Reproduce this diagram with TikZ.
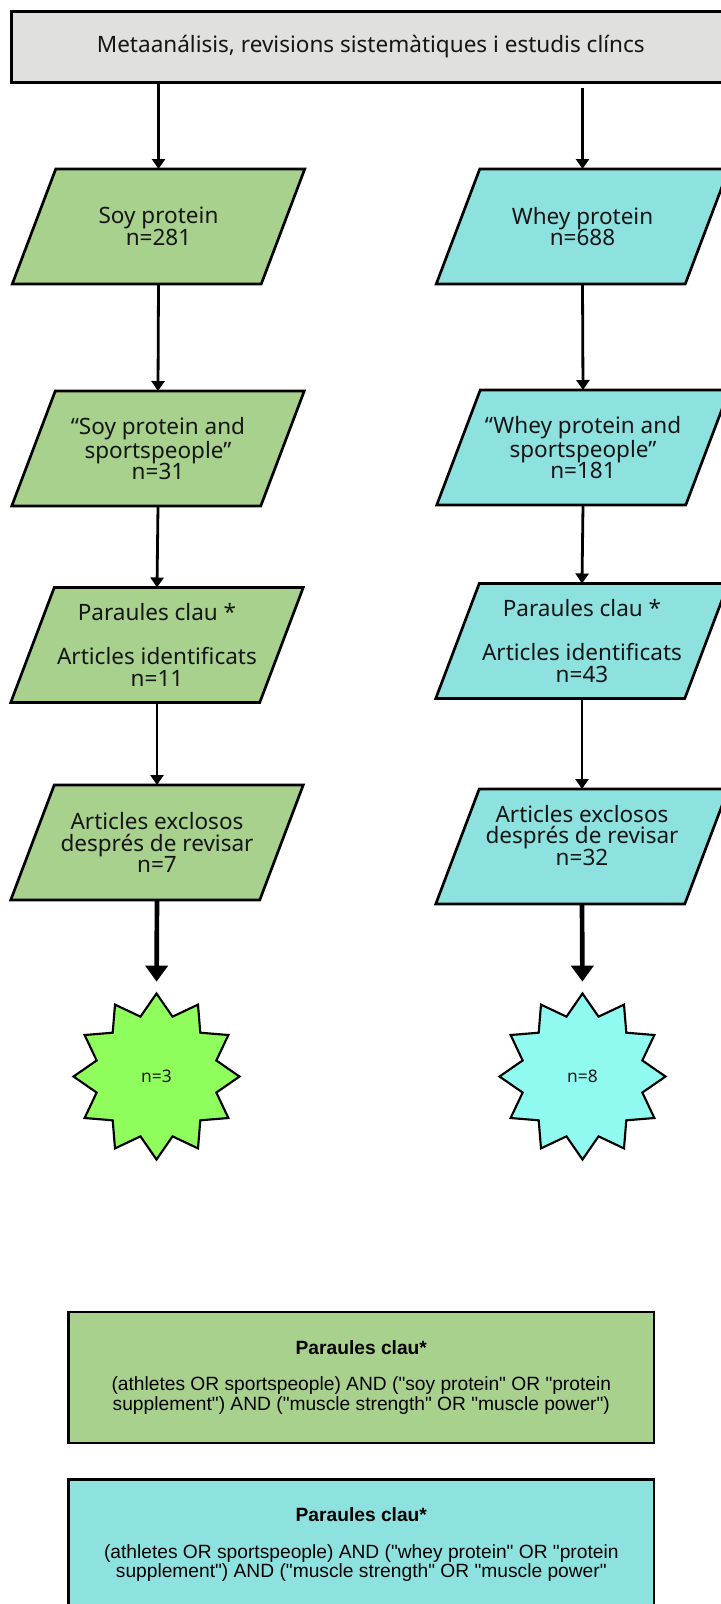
\documentclass[tikz,border=0pt]{standalone}
\usepackage{fontspec}
\setmainfont{Noto Sans}
\newfontfamily\boxfont{Liberation Sans}
\usetikzlibrary{shapes.geometric,arrows.meta,calc}
\definecolor{soy}{HTML}{A9D18E}
\definecolor{whey}{HTML}{8DE2E0}
\definecolor{topgray}{HTML}{E0E0DC}
\definecolor{soystar}{HTML}{8FFD5C}
\definecolor{wheystar}{HTML}{90FAF0}
\definecolor{ink}{HTML}{161616}
\newcommand\myparashape[2]{\path[#2] ($(#1.north west)+(21.75,0)$) -- ($(#1.north east)+(21.75,0)$) -- ($(#1.south east)+(-21.75,0)$) -- ($(#1.south west)+(-21.75,0)$) -- cycle;}
\begin{document}
\begin{tikzpicture}[x=0.75pt,y=-0.75pt,
  para/.style={minimum width=186.75pt, minimum height=86.25pt, inner sep=0pt, outer sep=0pt},
  soyfill/.style={fill=soy, draw=black, line width=2pt},
  wheyfill/.style={fill=whey, draw=black, line width=2pt},
  txt/.style={align=center, text=ink, font=\fontsize{16.9pt}{16.3pt}\selectfont, inner sep=0pt},
  arr/.style={-{Triangle[width=9.75pt,length=7.5pt]}, line width=2.1pt},
  bigarr/.style={-{Triangle[width=16.5pt,length=12pt]}, line width=3.5pt, shorten >=7.5pt},
  starnode/.style={star, star points=12, star point ratio=1.34, minimum size=124.5pt, inner sep=0pt, draw=black, line width=1.6pt, font=\fontsize{13pt}{15pt}\selectfont, text=ink},
  keybox/.style={draw=black, line width=1.8pt, minimum width=439pt, minimum height=98.25pt, align=center, text=black, font=\boxfont\fontsize{14.4pt}{13.2pt}\selectfont}
]
\useasboundingbox (0,0) rectangle (721,1604);

% top box
\node[draw=black, line width=2pt, fill=topgray, minimum width=538.9pt, minimum height=52.95pt, inner sep=0pt, text=ink, font=\fontsize{16.9pt}{16.3pt}\selectfont] (top) at (370.75,47) {Metaanálisis, revisions sistemàtiques i estudis clíncs};

% soy column
\node[para] (s1) at (158.5,226.5) {};
\myparashape{s1}{soyfill}
\node[txt] (s1t) at (s1) {Soy protein\\n=281};

\node[para] (s2) at (158,448.5) {};
\myparashape{s2}{soyfill}
\node[txt] (s2t) at (s2) {“Soy protein and\\sportspeople”\\n=31};

\node[para] (s3) at (157,645) {};
\myparashape{s3}{soyfill}
\node[txt] (s3t) at (s3) {Paraules clau *\\[16.3pt]Articles identificats\\n=11};

\node[para] (s4) at (157,842.5) {};
\myparashape{s4}{soyfill}
\node[txt] (s4t) at (s4) {Articles exclosos\\després de revisar\\n=7};

% whey column
\node[para] (w1) at (582.5,226.5) {};
\myparashape{w1}{wheyfill}
\node[txt] (w1t) at (w1) {Whey protein\\n=688};

\node[para] (w2) at (583,447.5) {};
\myparashape{w2}{wheyfill}
\node[txt] (w2t) at (w2) {“Whey protein and\\sportspeople”\\n=181};

\node[para] (w3) at (582,641) {};
\myparashape{w3}{wheyfill}
\node[txt] (w3t) at (w3) {Paraules clau *\\[16.3pt]Articles identificats\\n=43};

\node[para] (w4) at (582,846.5) {};
\myparashape{w4}{wheyfill}
\node[txt] (w4t) at ($(w4)+(0,-11)$) {Articles exclosos\\després de revisar\\n=32};

% stars
\node[starnode, fill=soystar] (st1) at (156.5,1076.5) {n=3};
\node[starnode, fill=wheystar] (st2) at (582.5,1076.5) {n=8};

% arrows
\draw[arr] (top.south -| s1.north) -- (s1.north);
\draw[arr] ($(top.south -| w1.north)+(0,4)$) -- (w1.north);
\draw[arr] (s1.south) -- (s2.north);
\draw[arr] (s2.south) -- (s3.north);
\draw[arr] (s3.south) -- (s4.north);
\draw[arr] (w1.south) -- (w2.north);
\draw[arr] (w2.south) -- (w3.north);
\draw[arr] (w3.south) -- (w4.north);
\draw[bigarr] (s4.south) -- (st1.north);
\draw[bigarr] (w4.south) -- (st2.north);

% keyword boxes
\node[keybox, fill=soy] (k1) at (361.3,1377.2) {{\bfseries Paraules clau*}\\[14.3pt](athletes OR sportspeople) AND ("soy protein" OR "protein\\supplement") AND ("muscle strength" OR "muscle power")};
\node[keybox, fill=whey] (k2) at (361.3,1544.8) {{\bfseries Paraules clau*}\\[14.3pt](athletes OR sportspeople) AND ("whey protein" OR "protein\\supplement") AND ("muscle strength" OR "muscle power"};
\end{tikzpicture}
\end{document}
